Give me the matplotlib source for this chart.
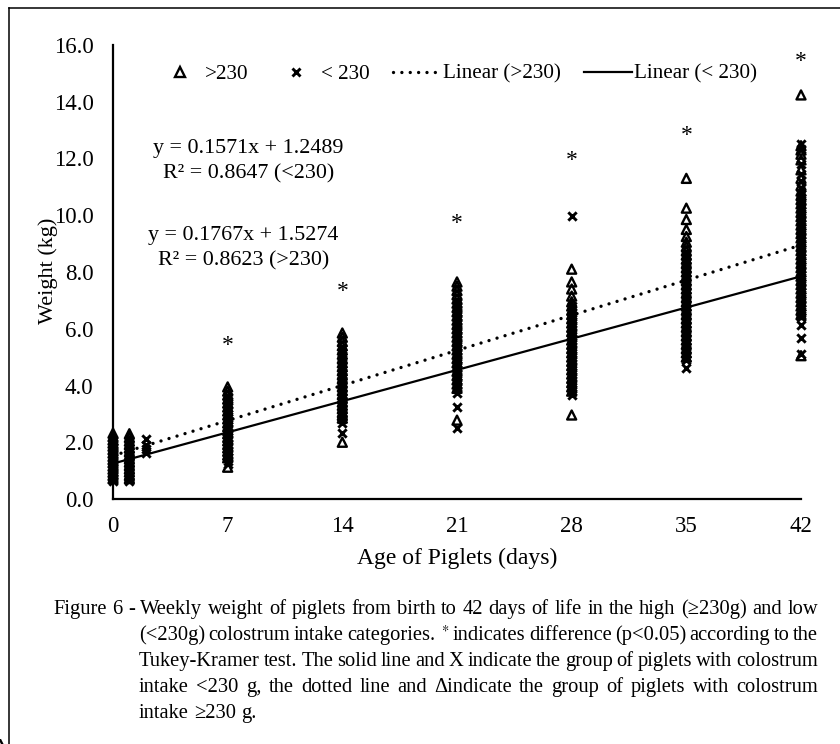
import matplotlib

matplotlib.use("Agg")
import matplotlib.pyplot as plt  # noqa: E402
import matplotlib.transforms as mtransforms  # noqa: E402
from matplotlib.lines import Line2D  # noqa: E402

plt.rcParams["font.family"] = ["Liberation Serif", "DejaVu Serif"]
plt.rcParams["mathtext.fontset"] = "stix"

# weights (kg), piglets with colostrum intake >230 g (triangles)
high_day0 = [2.32, 2.2, 2.08, 1.97, 1.86, 1.74, 1.62, 1.5, 1.39, 1.28, 1.16, 1.05, 0.94, 0.83, 0.72]
high_day1 = [2.3, 2.17, 2.04, 1.92, 1.8, 1.67, 1.54, 1.42, 1.3, 1.18, 1.06, 0.95, 0.83, 0.72]
high_day2 = []
high_day7 = [3.95, 3.8, 3.66, 3.52, 3.38, 3.24, 3.1, 2.96, 2.82, 2.68, 2.55, 2.42, 2.3,
             2.17, 2.05, 1.92, 1.8, 1.68, 1.55, 1.45, 1.12]
high_day14 = [5.85, 5.7, 5.55, 5.4, 5.25, 5.1, 4.95, 4.8, 4.66, 4.52, 4.38, 4.24, 4.1,
              3.96, 3.82, 3.68, 3.55, 3.42, 3.3, 3.18, 3.05, 2.95, 2.85, 2.0]
high_day21 = [7.65, 7.5, 7.35, 7.2, 7.05, 6.9, 6.75, 6.6, 6.45, 6.3, 6.15, 6.0, 5.85, 5.7,
              5.55, 5.4, 5.25, 5.1, 4.95, 4.8, 4.65, 4.5, 4.35, 4.2, 4.05, 3.9, 2.78]
high_day28 = [8.1, 7.65, 7.4, 7.15, 6.95, 6.8, 6.65, 6.5, 6.35, 6.2, 6.05, 5.9, 5.75, 5.6,
              5.45, 5.3, 5.15, 5.0, 4.85, 4.7, 4.55, 4.4, 4.25, 4.1, 3.95, 3.8, 2.96]
high_day35 = [11.3, 10.25, 9.85, 9.5, 9.25, 9.05, 8.9, 8.75, 8.6, 8.45, 8.3, 8.15, 8.0,
              7.85, 7.7, 7.55, 7.4, 7.25, 7.1, 6.95, 6.8, 6.65, 6.5, 6.35, 6.2, 6.05, 5.9,
              5.75, 5.6, 5.45, 5.3, 5.15, 5.0]
high_day42 = [14.24, 12.45, 12.3, 12.15, 11.95, 11.6, 11.3, 11.05, 10.85, 10.7, 10.55, 10.4,
              10.25, 10.1, 9.95, 9.8, 9.65, 9.5, 9.35, 9.2, 9.05, 8.9, 8.75, 8.6, 8.45, 8.3,
              8.15, 8.0, 7.85, 7.7, 7.55, 7.4, 7.25, 7.1, 6.95, 6.8, 6.65, 6.5, 5.05]

# piglets with colostrum intake <230 g (crosses)
low_day0 = [2.05, 1.92, 1.8, 1.66, 1.55, 1.43, 1.3, 1.2, 1.08, 0.96, 0.85, 0.74, 0.63]
low_day1 = [2.0, 1.88, 1.74, 1.6, 1.47, 1.35, 1.22, 1.1, 0.98, 0.86, 0.74, 0.63]
low_day2 = [2.1, 1.9, 1.75, 1.63]
low_day7 = [3.6, 3.45, 3.3, 3.15, 3.0, 2.86, 2.72, 2.58, 2.45, 2.32, 2.2, 2.08, 1.95, 1.83,
            1.7, 1.58, 1.47, 1.35, 1.25]
low_day14 = [5.3, 5.15, 5.0, 4.85, 4.7, 4.55, 4.4, 4.25, 4.1, 3.95, 3.8, 3.65, 3.5, 3.36,
             3.22, 3.08, 2.95, 2.82, 2.68, 2.33]
low_day21 = [6.9, 6.75, 6.6, 6.45, 6.3, 6.15, 6.0, 5.85, 5.7, 5.55, 5.4, 5.25, 5.1, 4.95,
             4.8, 4.65, 4.5, 4.35, 4.2, 4.05, 3.9, 3.75, 3.24, 2.5]
low_day28 = [9.97, 6.8, 6.65, 6.5, 6.35, 6.2, 6.05, 5.9, 5.75, 5.6, 5.45, 5.3, 5.15, 5.0,
             4.85, 4.7, 4.55, 4.4, 4.25, 4.1, 3.95, 3.8, 3.67]
low_day35 = [8.6, 8.45, 8.3, 8.15, 8.0, 7.85, 7.7, 7.55, 7.4, 7.25, 7.1, 6.95, 6.8, 6.65,
             6.5, 6.35, 6.2, 6.05, 5.9, 5.75, 5.6, 5.45, 5.3, 5.15, 5.0, 4.9, 4.6]
low_day42 = [12.5, 12.35, 11.8, 11.45, 11.2, 10.95, 10.75, 10.6, 10.45, 10.3, 10.15, 10.0,
             9.85, 9.7, 9.55, 9.4, 9.25, 9.1, 8.95, 8.8, 8.65, 8.5, 8.35, 8.2, 8.05, 7.9,
             7.75, 7.6, 7.45, 7.3, 7.15, 7.0, 6.85, 6.7, 6.55, 6.4, 6.13, 5.67, 5.1]

days = [0, 1, 2, 7, 14, 21, 28, 35, 42]
high_weights = [high_day0, high_day1, high_day2, high_day7, high_day14, high_day21,
                high_day28, high_day35, high_day42]
low_weights = [low_day0, low_day1, low_day2, low_day7, low_day14, low_day21,
               low_day28, low_day35, low_day42]

# significant differences (*)
star_days = [7, 14, 21, 28, 35, 42]
star_weights = [5.53, 7.44, 9.83, 12.05, 12.95, 15.55]

# fitted trend lines
high_slope, high_intercept = 0.1767, 1.5274
low_slope, low_intercept = 0.1571, 1.2489
trend_days = [0, 42]

x_ticks = [0, 7, 14, 21, 28, 35, 42]
y_ticks = [0, 2, 4, 6, 8, 10, 12, 14, 16]

caption_lines = [
    "Figure 6 - Weekly weight of piglets from birth to 42 days of life in the high (\u2265230g) and low",
    "(<230g) colostrum intake categories. $^*$ indicates difference (p<0.05) according to the",
    "Tukey-Kramer test. The solid line and X indicate the group of piglets with colostrum",
    "intake <230 g, the dotted line and \u0394indicate the group of piglets with colostrum",
    "intake \u2265230 g.",
]

W, H = 840, 744
fig = plt.figure(figsize=(W / 100, H / 100), dpi=100)
ax = fig.add_axes([113 / W, 1 - 499 / H, (801 - 113) / W, (499 - 45) / H])

for day, values in zip(days, high_weights):
    ax.scatter([day] * len(values), values, marker="^", s=42, facecolors="none",
               edgecolors="black", linewidths=1.7, clip_on=False, zorder=3)
for day, values in zip(days, low_weights):
    ax.scatter([day] * len(values), values, marker="x", s=36, color="black",
               linewidths=2.1, clip_on=False, zorder=3)

dotted = dict(color="black", lw=2.4, linestyle=(0, (0.01, 2.5)), dash_capstyle="round")
high_line = [high_slope * d + high_intercept for d in trend_days]
low_line = [low_slope * d + low_intercept for d in trend_days]
ax.plot(trend_days, high_line, zorder=4, **dotted)
ax.plot(trend_days, low_line, color="black", lw=1.6, zorder=4)

star_tr = mtransforms.offset_copy(ax.transData, fig=fig, y=-9, units="dots")
for d, w in zip(star_days, star_weights):
    ax.text(d, w, "*", transform=star_tr, ha="center", va="baseline", fontsize=17)

ax.set_xlim(0, 42)
ax.set_ylim(0, 16)
ax.set_xticks(x_ticks)
ax.set_yticks(y_ticks)
ax.set_yticklabels([f"{v:.1f}" for v in y_ticks])
ax.tick_params(length=0, labelsize=16.5)
ax.tick_params(axis="y", pad=14)
ax.tick_params(axis="x", pad=12)
for side in ["top", "right"]:
    ax.spines[side].set_visible(False)
for side in ["left", "bottom"]:
    ax.spines[side].set_linewidth(1.6)

handles = [
    Line2D([], [], marker="^", linestyle="none", markersize=6.5, markerfacecolor="none",
           markeredgecolor="black", markeredgewidth=1.7),
    Line2D([], [], marker="x", linestyle="none", markersize=6, color="black",
           markeredgewidth=2.1),
    Line2D([], [], **dotted),
    Line2D([], [], color="black", lw=1.6),
]
labels = [">230", "< 230", "Linear (>230)", "Linear (< 230)"]
fig.legend(handles, labels, loc="center", bbox_to_anchor=(456 / W, 1 - 74 / H), ncol=4,
           frameon=False, fontsize=15.2, handlelength=2.3, handletextpad=0.05,
           columnspacing=1.1)

fig.text(457 / W, 1 - 558 / H, "Age of Piglets (days)", ha="center", va="center", fontsize=17)
fig.text(48 / W, 1 - 271 / H, "Weight (kg)", rotation=90, ha="center", va="center",
         fontsize=16)

fig.text(248 / W, 1 - 148 / H, "y = 0.1571x + 1.2489", ha="center", va="center", fontsize=15.8)
fig.text(249 / W, 1 - 174 / H, "R\u00b2 = 0.8647 (<230)", ha="center", va="center", fontsize=15.8)
fig.text(243 / W, 1 - 236 / H, "y = 0.1767x + 1.5274", ha="center", va="center", fontsize=15.8)
fig.text(244 / W, 1 - 261 / H, "R\u00b2 = 0.8623 (>230)", ha="center", va="center", fontsize=15.8)

# caption, justified between the left indent and x = 818 px (last line left-aligned)
renderer = fig.canvas.get_renderer()
caption_size = 14.8
caption_x = [53, 139, 139, 139, 139]
right_edge = 818
for i, (line, x0) in enumerate(zip(caption_lines, caption_x)):
    y = 1 - (614 + 26 * i) / H
    words = line.split(" ")
    texts = [fig.text(0, y, w, ha="left", va="baseline", fontsize=caption_size) for w in words]
    widths = [t.get_window_extent(renderer).width for t in texts]
    if i < len(caption_lines) - 1:
        gap = (right_edge - x0 - sum(widths)) / (len(words) - 1)
    else:
        gap = caption_size * 100 / 72 * 0.25
    x = x0
    for t, w in zip(texts, widths):
        t.set_x(x / W)
        x += w + gap

# outer frame (left and top edges visible in the reference)
fig.add_artist(Line2D([8.5 / W, 8.5 / W], [0, 1 - 8 / H], transform=fig.transFigure,
                      color="black", lw=1.1))
fig.add_artist(Line2D([8.5 / W, 1], [1 - 8 / H, 1 - 8 / H], transform=fig.transFigure,
                      color="black", lw=1.1))

fig.savefig("out.png", dpi=100)
plt.close(fig)
